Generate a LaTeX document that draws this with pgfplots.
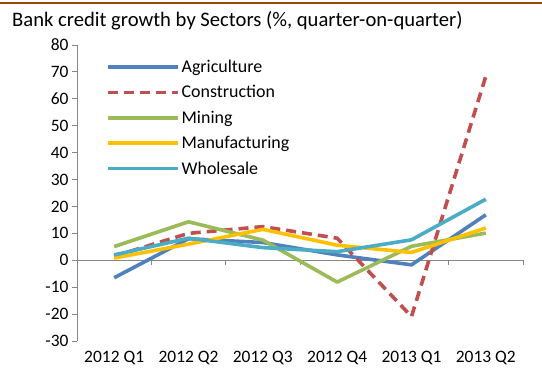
\documentclass[border=0pt]{standalone}
\usepackage{pgfplots}
\pgfplotsset{compat=1.18}
\usepackage{fontspec}
\setmainfont{Carlito}
\definecolor{cAgr}{HTML}{4F81BD}
\definecolor{cCon}{HTML}{C0504D}
\definecolor{cMin}{HTML}{9BBB59}
\definecolor{cMan}{HTML}{FFC000}
\definecolor{cWho}{HTML}{4BACC6}
\definecolor{axgray}{HTML}{868686}
\definecolor{brownline}{HTML}{984807}
\begin{document}
\begin{tikzpicture}
\useasboundingbox (0,0) rectangle (542bp,374bp);
\draw[brownline, line width=2bp] (0,371bp) -- (542bp,371bp);
\node[anchor=base west, inner sep=0pt, font=\fontsize{20.7}{22}\selectfont] at (12bp,347bp) {Bank credit growth by Sectors (\%, quarter-on-quarter)};
\begin{axis}[
  at={(77bp,33bp)}, anchor=south west,
  scale only axis, width=446bp, height=296bp,
  xmin=-0.5, xmax=5.5, ymin=-30, ymax=80,
  ytick={-30,-20,...,80},
  xtick={0,1,2,3,4,5},
  xticklabels={2012 Q1,2012 Q2,2012 Q3,2012 Q4,2013 Q1,2013 Q2},
  axis lines*=left,
  x axis line style={draw=none},
  xtick style={draw=none},
  y axis line style={axgray, line width=1pt, -},
  ytick style={axgray, line width=1pt},
  tick align=outside,
  major tick length=5bp,
  tick label style={font=\fontsize{17.5}{19}\selectfont, text=black},
  xticklabel style={yshift=-2bp},
  /pgf/number format/assume math mode=true,
  clip=false,
  legend style={at={(0.058,0.963)}, anchor=north west, draw=none, fill=none,
    font=\fontsize{18}{20}\selectfont, row sep=7.5bp,
    legend cell align=left},
  legend image code/.code={\draw[#1] (0bp,0bp) -- (70bp,0bp);},
  every axis plot/.append style={line width=3.6bp, line join=round},
]
\draw[axgray, line width=1pt] (axis cs:-0.5,0) -- (axis cs:5.5,0);
\pgfplotsinvokeforeach{0.5,1.5,2.5,3.5,4.5,5.5}{
  \draw[axgray, line width=1pt] (axis cs:#1,0) -- ([yshift=-5bp]axis cs:#1,0);
}
\addplot[cAgr] coordinates {(0,-6.5) (1,8) (2,6.6) (3,2) (4,-1.7) (5,16.9)};
\addlegendentry{Agriculture}
\addplot[cCon, dash pattern=on 10bp off 6bp] coordinates {(0,1.5) (1,10) (2,12.5) (3,8.2) (4,-20.9) (5,68.4)};
\addlegendentry{Construction}
\addplot[cMin] coordinates {(0,5.1) (1,14.3) (2,7.5) (3,-8.1) (4,5.2) (5,10.1)};
\addlegendentry{Mining}
\addplot[cMan] coordinates {(0,0.8) (1,6) (2,11.5) (3,5.6) (4,2.9) (5,12)};
\addlegendentry{Manufacturing}
\addplot[cWho] coordinates {(0,2) (1,8.2) (2,4.7) (3,3.2) (4,7.6) (5,22.7)};
\addlegendentry{Wholesale}
\end{axis}
\end{tikzpicture}
\end{document}
